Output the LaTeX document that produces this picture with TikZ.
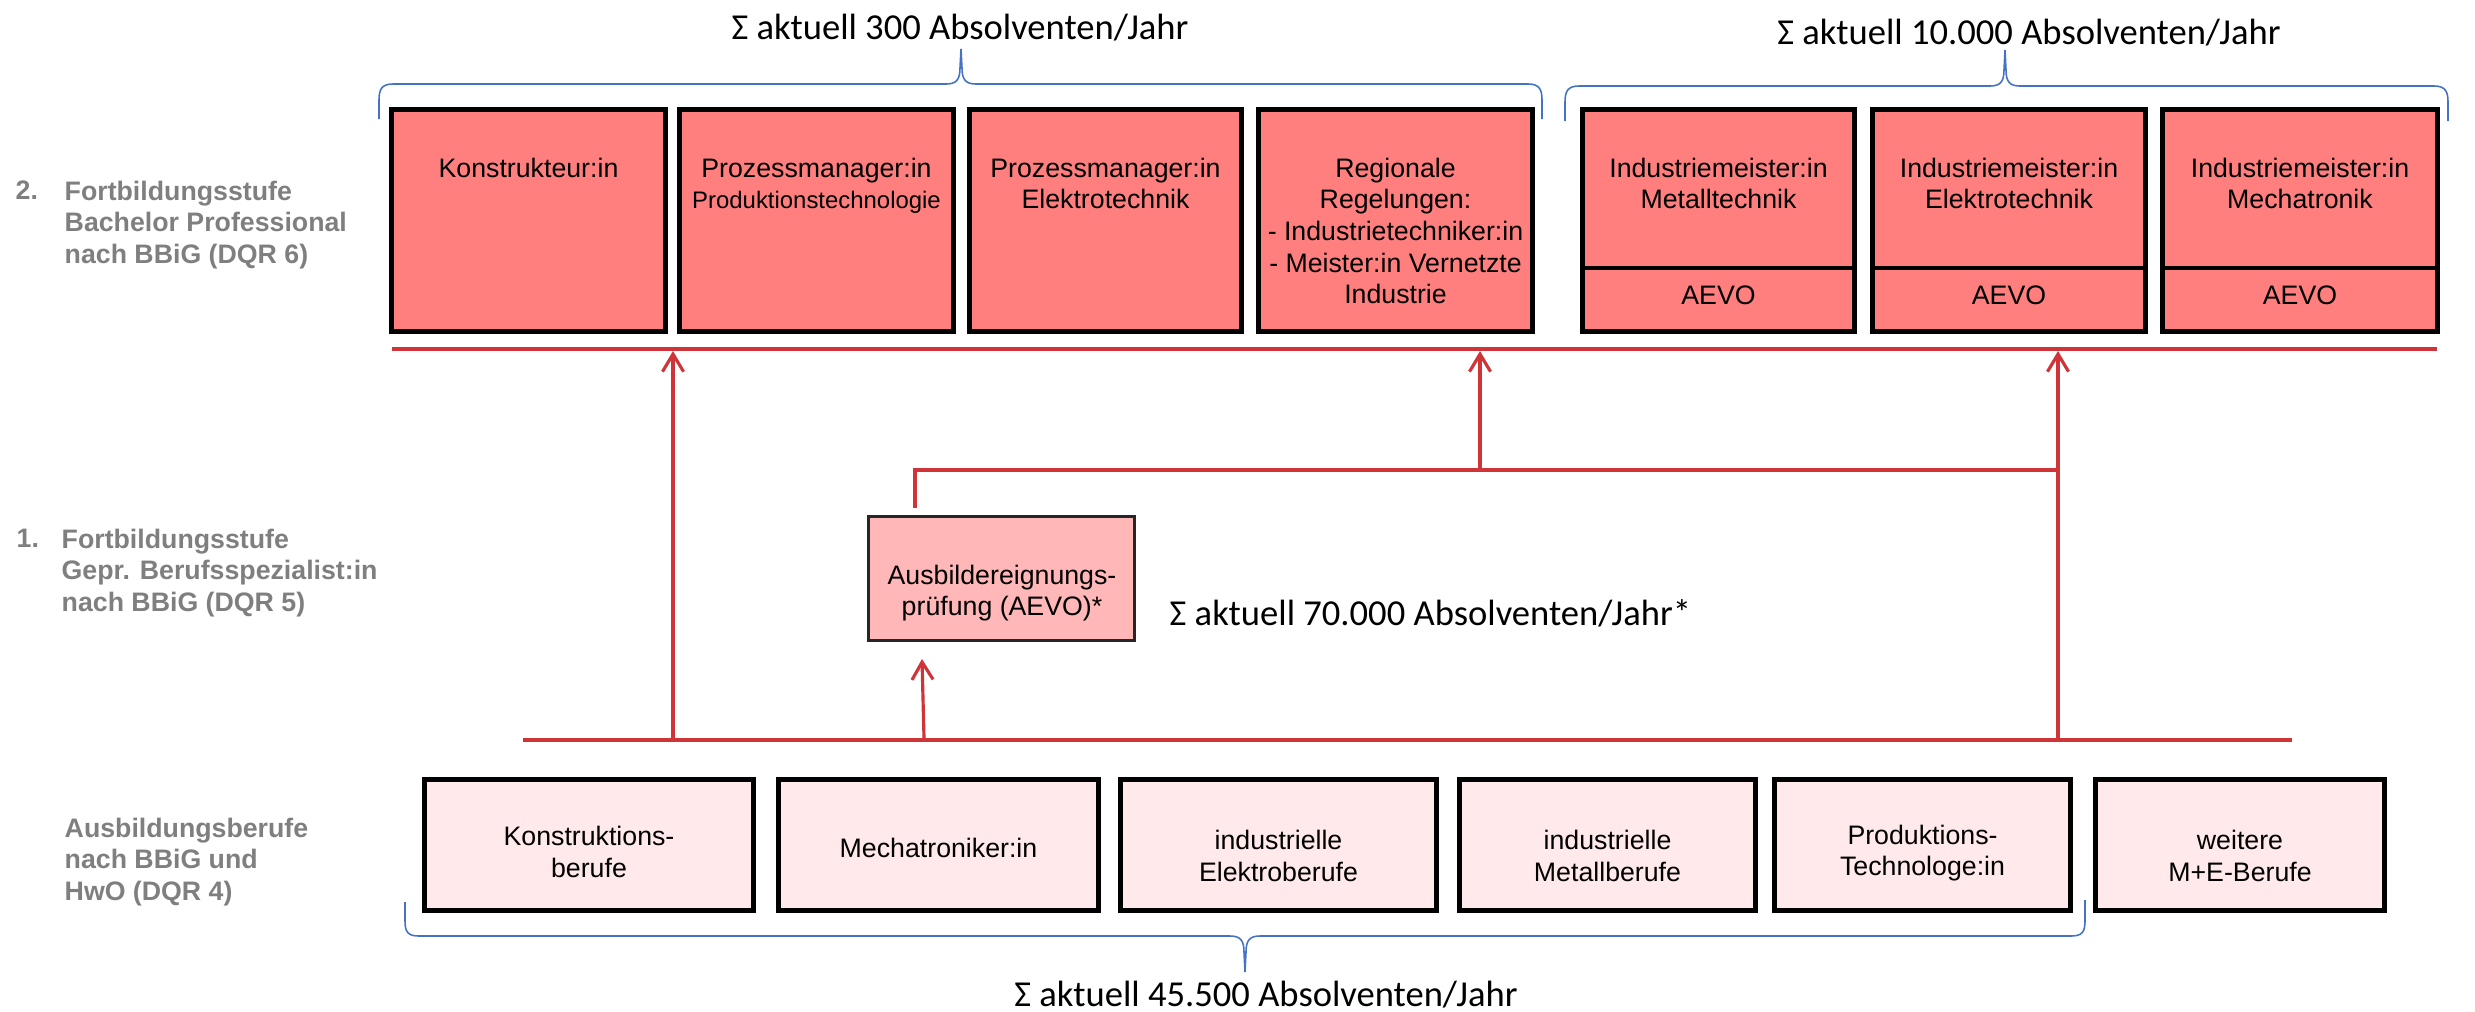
\documentclass[tikz,border=0pt]{standalone}
\usepackage{fontspec}
\setmainfont{Liberation Sans}
\newfontfamily\sumfont{Carlito}
\usetikzlibrary{arrows.meta}
\definecolor{topred}{RGB}{255,127,127}
\definecolor{midred}{RGB}{255,183,183}
\definecolor{lowred}{RGB}{255,233,234}
\definecolor{linered}{RGB}{207,52,56}
\definecolor{braceblue}{RGB}{68,114,196}
\definecolor{labelgray}{RGB}{127,127,127}
\begin{document}
\begin{tikzpicture}[x=0.01cm,y=-0.01cm,
  topbox/.style={draw=black, line width=1.4pt, fill=topred, inner sep=0pt, minimum height=2.22cm},
  lowbox/.style={draw=black, line width=1.4pt, fill=lowred, inner sep=0pt, minimum height=1.31cm},
  midbox/.style={draw=black!85, line width=0.8pt, fill=midred, inner sep=0pt, minimum width=2.66cm, minimum height=1.24cm},
  boxtext/.style={font=\fontsize{7.6}{9}\selectfont, align=center, inner sep=0pt},
  levellabel/.style={font=\fontsize{7.6}{9}\selectfont\bfseries, text=labelgray, align=left, inner sep=0pt, anchor=north west},
  sumtext/.style={font=\sumfont\fontsize{10.4}{12}\selectfont, inner sep=0pt},
  bus/.style={draw=linered, line width=1pt},
  uparrow/.style={draw=linered, line width=0.9pt, -{Straight Barb[length=5pt,width=6pt]}},
  brace/.style={draw=braceblue, line width=0.45pt}
]
\useasboundingbox (0,0) rectangle (2475,1011);

% ---------- level labels ----------
\node[levellabel] (n2) at (15,180) {2.};
\node[levellabel] (l2) at (64,180) {Fortbildungsstufe\\Bachelor Professional\\nach BBiG (DQR 6)};
\node[levellabel] (n1) at (16,528) {1.};
\node[levellabel] (l1) at (61,528) {Fortbildungsstufe\\Gepr. Berufsspezialist:in\\nach BBiG (DQR 5)};
\node[levellabel] (l0) at (64,817) {Ausbildungsberufe\\nach BBiG und\\HwO (DQR 4)};

% ---------- top boxes ----------
\node[topbox, minimum width=2.74cm] (b1) at (528.5,220.5) {};
\node[topbox, minimum width=2.74cm] (b2) at (816.5,220.5) {};
\node[topbox, minimum width=2.72cm] (b3) at (1105.5,220.5) {};
\node[topbox, minimum width=2.74cm] (b4) at (1395.5,220.5) {};
\node[topbox, minimum width=2.72cm, minimum height=1.585cm] (b5) at (1718.5,188.75) {};
\node[topbox, minimum width=2.72cm, minimum height=0.635cm] (b5a) at (1718.5,299.75) {};
\node[topbox, minimum width=2.73cm, minimum height=1.585cm] (b6) at (2009,188.75) {};
\node[topbox, minimum width=2.73cm, minimum height=0.635cm] (b6a) at (2009,299.75) {};
\node[topbox, minimum width=2.75cm, minimum height=1.585cm] (b7) at (2300,188.75) {};
\node[topbox, minimum width=2.75cm, minimum height=0.635cm] (b7a) at (2300,299.75) {};

\node[boxtext, anchor=north] (t1) at (528.5,157) {Konstrukteur:in};
\node[boxtext, anchor=north] (t2) at (816.5,157) {Prozessmanager:in\\{\fontsize{6.8}{9}\selectfont Produktionstechnologie}};
\node[boxtext, anchor=north] (t3) at (1105.5,157) {Prozessmanager:in\\Elektrotechnik};
\node[boxtext, anchor=north] (t4) at (1395.5,157) {Regionale\\Regelungen:\\- Industrietechniker:in\\- Meister:in Vernetzte\\Industrie};
\node[boxtext, anchor=north] (t5) at (1718.5,157) {Industriemeister:in\\Metalltechnik};
\node[boxtext, anchor=north] (t6) at (2009,157) {Industriemeister:in\\Elektrotechnik};
\node[boxtext, anchor=north] (t7) at (2300,157) {Industriemeister:in\\Mechatronik};
\node[boxtext] (t5a) at (1718.5,295) {AEVO};
\node[boxtext] (t6a) at (2009,295) {AEVO};
\node[boxtext] (t7a) at (2300,295) {AEVO};

% ---------- AEVO middle box ----------
\node[midbox] (aevo) at (1001.5,578.5) {};
\node[boxtext] (aevot) at (1002,593) {Ausbildereignungs-\\prüfung (AEVO)*};

% ---------- bottom boxes ----------
\node[lowbox, minimum width=3.29cm] (c1) at (589,845) {};
\node[lowbox, minimum width=3.20cm] (c2) at (938.5,845) {};
\node[lowbox, minimum width=3.16cm] (c3) at (1278.5,845) {};
\node[lowbox, minimum width=2.96cm] (c4) at (1607.5,845) {};
\node[lowbox, minimum width=2.96cm] (c5) at (1922.5,845) {};
\node[lowbox, minimum width=2.89cm] (c6) at (2240,845) {};
\node[boxtext] (u1) at (589,852) {Konstruktions-\\berufe};
\node[boxtext] (u2) at (938.5,848) {Mechatroniker:in};
\node[boxtext] (u3) at (1278.5,856) {industrielle\\Elektroberufe};
\node[boxtext] (u4) at (1607.5,856) {industrielle\\Metallberufe};
\node[boxtext] (u5) at (1922.5,853) {Produktions-\\Technologe:in};
\node[boxtext] (u6) at (2240,856) {weitere\\M+E-Berufe};

% ---------- sums ----------
\node[sumtext] (s1) at (960,28) {Σ aktuell 300 Absolventen/Jahr};
\node[sumtext] (s2) at (2029,33) {Σ aktuell 10.000 Absolventen/Jahr};
\node[sumtext, anchor=west] (s3) at (1169,613) {Σ aktuell 70.000 Absolventen/Jahr*};
\node[sumtext] (s4) at (1266,995) {Σ aktuell 45.500 Absolventen/Jahr};

% ---------- braces ----------
\draw[brace] (379,119) -- (379,100) .. controls (379,89) and (382,84) .. (393,84) -- (946,84) .. controls (956,84) and (960,80) .. (960,68) -- (961,49) -- (962,68) .. controls (962,80) and (966,84) .. (976,84) -- (1528,84) .. controls (1539,84) and (1542,89) .. (1542,100) -- (1542,119);
\draw[brace] (1565,121) -- (1565,102) .. controls (1565,91) and (1568,86) .. (1579,86) -- (1990,86) .. controls (2000,86) and (2004,82) .. (2004,70) -- (2005,50) -- (2006,70) .. controls (2006,82) and (2010,86) .. (2020,86) -- (2434,86) .. controls (2445,86) and (2448,91) .. (2448,102) -- (2448,121);
\draw[brace] (405,902) -- (405,921) .. controls (405,932) and (408,936) .. (419,936) -- (1230,936) .. controls (1240,936) and (1244,940) .. (1244,952) -- (1245,972) -- (1246,952) .. controls (1246,940) and (1250,936) .. (1260,936) -- (2071,936) .. controls (2082,936) and (2085,932) .. (2085,921) -- (2085,900);

% ---------- red connectors ----------
\coordinate (busTL) at (392,349);
\coordinate (busTR) at (2437,349);
\coordinate (busBL) at (523,740);
\coordinate (busBR) at (2292,740);
\draw[bus] (busTL) -- (busTR);
\draw[bus] (busBL) -- (busBR);

\coordinate (a1s) at (673,740);
\coordinate (a1e) at (673,351);
\coordinate (a3s) at (2058,740);
\coordinate (a3e) at (2058,351);
\coordinate (m1) at (915,508);
\coordinate (m2) at (915,470);
\coordinate (m3) at (2058,470);
\coordinate (a2s) at (1480,470);
\coordinate (a2e) at (1480,351);
\coordinate (a4s) at (924,738);
\coordinate (a4e) at (922,659);

\draw[bus, line width=0.9pt] (m1) -- (m2) -- (m3);
\draw[uparrow] (a1s) -- (a1e);
\draw[uparrow] (a2s) -- (a2e);
\draw[uparrow] (a3s) -- (a3e);
\draw[uparrow] (a4s) -- (a4e);
\end{tikzpicture}
\end{document}
